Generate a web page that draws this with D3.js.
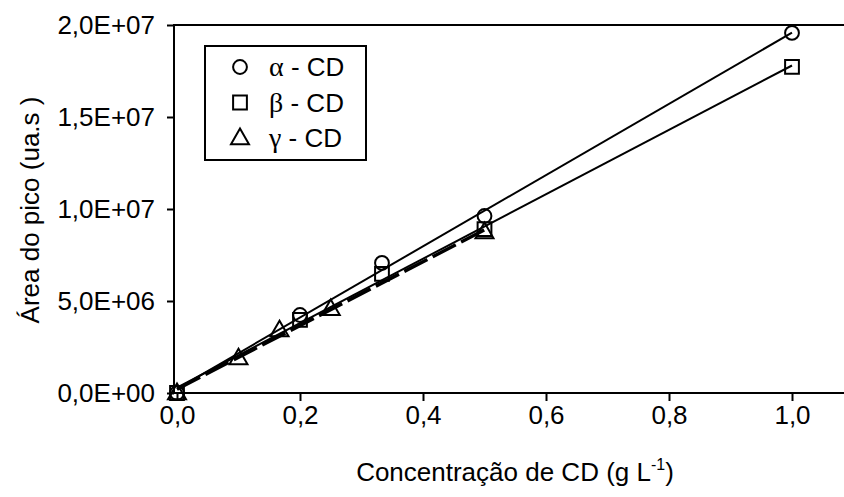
<!DOCTYPE html>
<html>
<head>
<meta charset="utf-8">
<script src="https://cdn.jsdelivr.net/npm/d3@7"></script>
<style>
  html, body { margin: 0; padding: 0; background: #fff; }
  svg { display: block; }
  text { font-family: "Liberation Sans", Arial, sans-serif; fill: #000; }
</style>
</head>
<body>
<svg id="chart" width="844" height="497"></svg>
<script>
// Peak area vs. cyclodextrin concentration
const concAB = [0, 0.2, 0.3333, 0.5, 1.0];          // g/L, alpha and beta
const concG  = [0, 0.1, 0.1667, 0.25, 0.5];         // g/L, gamma
const areaAlpha = [0, 4.24e6, 7.07e6, 9.62e6, 1.957e7];
const areaBeta  = [0, 3.97e6, 6.47e6, 8.91e6, 1.772e7];
const areaGamma = [0, 1.90e6, 3.42e6, 4.57e6, 8.75e6];
const xTicks = [0, 0.2, 0.4, 0.6, 0.8, 1.0];
const yTicks = [0, 5e6, 1e7, 1.5e7, 2e7];
const legendNames = ["α", "β", "γ"];

const FS = "26px";
const svg = d3.select("#chart");
const x = d3.scaleLinear().domain([0, 1.1]).range([177, 853.5]);
const y = d3.scaleLinear().domain([0, 2e7]).range([393, 25]);
const axisX0 = 174;

const fmtX = v => d3.format(".1f")(v).replace(".", ",");
const fmtY = v => {
  const s = v.toExponential(1).replace(".", ",");   // e.g. 2,0e+7
  const [m, e] = s.split("e");
  return m + "E" + e[0] + e.slice(1).padStart(2, "0");
};

// frame lines: left axis, bottom axis, top border
svg.append("line").attr("x1", axisX0).attr("x2", axisX0).attr("y1", y(2e7)).attr("y2", y(0))
  .attr("stroke", "#000").attr("stroke-width", 2);
svg.append("line").attr("x1", axisX0 - 1).attr("x2", 844).attr("y1", y(0)).attr("y2", y(0))
  .attr("stroke", "#000").attr("stroke-width", 2);
svg.append("line").attr("x1", axisX0 - 1).attr("x2", 844).attr("y1", y(2e7)).attr("y2", y(2e7))
  .attr("stroke", "#000").attr("stroke-width", 2);

// axes (ticks + labels)
const gx = svg.append("g").attr("transform", `translate(0,${y(0)})`)
  .call(d3.axisBottom(x).tickValues(xTicks).tickFormat(fmtX).tickSize(8).tickPadding(5));
gx.select(".domain").remove();
gx.selectAll(".tick line").attr("stroke-width", 2);
gx.selectAll(".tick text").style("font-size", FS).attr("font-family", null);

const gy = svg.append("g").attr("transform", `translate(${axisX0},0)`)
  .call(d3.axisLeft(y).tickValues(yTicks).tickFormat(fmtY).tickSize(7).tickPadding(12));
gy.select(".domain").remove();
gy.selectAll(".tick line").attr("stroke-width", 2);
gy.selectAll(".tick text").style("font-size", FS).attr("font-family", null);

// linear least-squares fit
function fit(xs, ys) {
  const mx = d3.mean(xs), my = d3.mean(ys);
  let sxy = 0, sxx = 0;
  xs.forEach((v, i) => { sxy += (v - mx) * (ys[i] - my); sxx += (v - mx) ** 2; });
  const b = sxy / sxx;
  return { b, a: my - b * mx };
}
function fitLine(xs, ys, dash, width) {
  const f = fit(xs, ys);
  const x0 = d3.min(xs), x1 = d3.max(xs);
  svg.append("line")
    .attr("x1", x(x0)).attr("y1", y(f.a + f.b * x0))
    .attr("x2", x(x1)).attr("y2", y(f.a + f.b * x1))
    .attr("stroke", "#000").attr("stroke-width", width)
    .attr("stroke-dasharray", dash);
}
fitLine(concAB, areaAlpha, null, 2);
fitLine(concAB, areaBeta, null, 2);
fitLine(concG, areaGamma, "26,6", 3.5);

// markers
const symCircle = d3.symbol().type(d3.symbolCircle).size(150);
const symSquare = d3.symbol().type(d3.symbolSquare).size(190);
const symTri = d3.symbol().type(d3.symbolTriangle).size(140);
function marks(xs, ys, sym, dy) {
  svg.append("g").selectAll("path").data(xs.map((v, i) => [v, ys[i]])).join("path")
    .attr("d", sym)
    .attr("transform", d => `translate(${x(d[0])},${y(d[1]) + (dy || 0)})`)
    .attr("fill", "none").attr("stroke", "#000").attr("stroke-width", 2);
}
marks(concAB, areaAlpha, symCircle);
marks(concAB, areaBeta, symSquare);
marks(concG, areaGamma, symTri, 1);

// legend
const lg = svg.append("g");
lg.append("rect").attr("x", 205).attr("y", 46).attr("width", 161).attr("height", 114)
  .attr("fill", "#fff").attr("stroke", "#000").attr("stroke-width", 2);
const legSyms = [symCircle, symSquare, symTri];
legendNames.forEach((nm, i) => {
  const cy = 67 + i * 35.5;
  lg.append("path").attr("d", legSyms[i]).attr("transform", `translate(240,${cy + (i === 2 ? 1 : 0)})`)
    .attr("fill", "none").attr("stroke", "#000").attr("stroke-width", 2);
  const t = lg.append("text").attr("x", 269).attr("y", cy + 9).style("font-size", FS);
  t.append("tspan").attr("font-family", "'Liberation Serif', 'Times New Roman', serif")
    .style("font-size", "28px").text(nm);
  t.append("tspan").text(" - CD");
});

// axis titles
const xt = svg.append("text").attr("x", 515).attr("y", 481).attr("text-anchor", "middle").style("font-size", FS);
xt.append("tspan").text("Concentração de CD (g L");
xt.append("tspan").attr("dy", -11).style("font-size", "16px").text("-1");
xt.append("tspan").attr("dy", 11).text(")");

svg.append("text").attr("transform", "translate(39,210) rotate(-90)")
  .attr("text-anchor", "middle").style("font-size", FS).text("Área do pico (ua.s )");
</script>
</body>
</html>
